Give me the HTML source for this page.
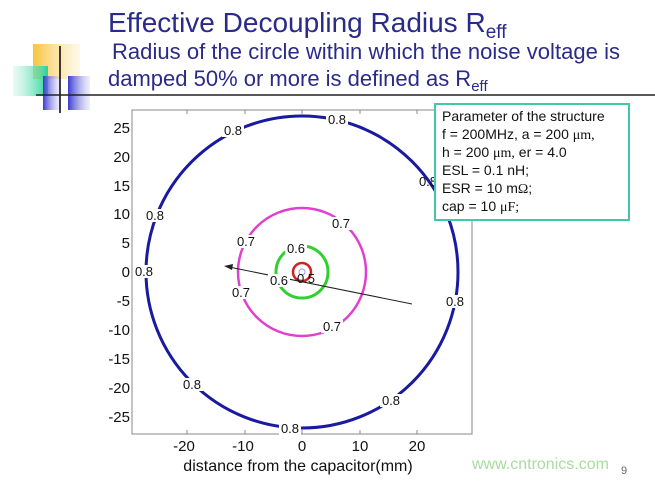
<!DOCTYPE html>
<html><head><meta charset="utf-8"><style>
body{margin:0;background:#fff;width:655px;height:479px;overflow:hidden;font-family:"Liberation Sans",sans-serif;}
</style></head><body>
<svg width="655" height="479" viewBox="0 0 655 479" xmlns="http://www.w3.org/2000/svg" font-family="Liberation Sans, sans-serif">
<defs>
<linearGradient id="gy" x1="0" x2="1"><stop offset="0" stop-color="#f7c33a"/><stop offset="1" stop-color="#fbe7b0" stop-opacity="0.3"/></linearGradient>
<linearGradient id="gg" x1="1" x2="0"><stop offset="0" stop-color="#27d49a"/><stop offset="1" stop-color="#b8f0dc" stop-opacity="0.3"/></linearGradient>
<linearGradient id="gb" x1="0" x2="1"><stop offset="0" stop-color="#3a3ad0"/><stop offset="1" stop-color="#c8c8f4" stop-opacity="0.3"/></linearGradient>
</defs>
<rect x="33" y="44" width="47" height="35" fill="url(#gy)"/>
<rect x="13" y="66" width="35" height="30" fill="url(#gg)"/>
<rect x="43" y="76" width="17" height="34" fill="url(#gb)"/>
<rect x="68" y="76" width="22" height="34" fill="url(#gb)"/>
<line x1="60" y1="46" x2="60" y2="113" stroke="#000" stroke-width="1.5"/>
<line x1="36" y1="95" x2="655" y2="95" stroke="#222" stroke-width="1.5"/>
<text x="108" y="32" font-size="28" fill="#2a2a8a">Effective Decoupling Radius R<tspan font-size="19" dy="6">eff</tspan></text>
<text x="112" y="59" font-size="22" fill="#2a2a8a" textLength="508">Radius of the circle within which the noise voltage is</text>
<text x="108" y="86" font-size="22" fill="#2a2a8a">damped 50% or more is defined as R<tspan font-size="15" dy="5">eff</tspan></text>

<rect x="132" y="110" width="340" height="324" fill="none" stroke="#888" stroke-width="1"/>
<g stroke="#888">
<line x1="187" y1="434" x2="187" y2="430"/><line x1="245" y1="434" x2="245" y2="430"/><line x1="302" y1="434" x2="302" y2="430"/><line x1="360" y1="434" x2="360" y2="430"/><line x1="417" y1="434" x2="417" y2="430"/>
<line x1="187" y1="110" x2="187" y2="114"/><line x1="245" y1="110" x2="245" y2="114"/><line x1="302" y1="110" x2="302" y2="114"/><line x1="360" y1="110" x2="360" y2="114"/><line x1="417" y1="110" x2="417" y2="114"/>
</g>
<g font-size="15" fill="#111" text-anchor="end">
<text x="130" y="133">25</text><text x="130" y="162">20</text><text x="130" y="191">15</text><text x="130" y="219">10</text><text x="130" y="248">5</text><text x="130" y="277">0</text><text x="130" y="306">-5</text><text x="130" y="335">-10</text><text x="130" y="364">-15</text><text x="130" y="393">-20</text><text x="130" y="422">-25</text>
</g>
<g font-size="15" fill="#111" text-anchor="middle">
<text x="184" y="451">-20</text><text x="243" y="451">-10</text><text x="302" y="451">0</text><text x="360" y="451">10</text><text x="417" y="451">20</text>
<text x="298" y="471" font-size="16">distance from the capacitor(mm)</text>
</g>
<circle cx="302" cy="272" r="156" fill="none" stroke="#1a1aa0" stroke-width="3"/>
<circle cx="302" cy="272" r="64" fill="none" stroke="#e040d0" stroke-width="2.5"/>
<circle cx="302" cy="272" r="26" fill="none" stroke="#30d030" stroke-width="3"/>
<circle cx="302" cy="272" r="9" fill="none" stroke="#d02020" stroke-width="2.5"/>
<circle cx="302" cy="272" r="3" fill="none" stroke="#9999dd" stroke-width="1"/>
<line x1="412" y1="304" x2="229" y2="267" stroke="#222" stroke-width="1"/>
<polygon points="224,266 233,264 232,270" fill="#222"/>
<g font-size="13" fill="#111" text-anchor="middle">
<g fill="#fff"><rect x="222" y="124" width="22" height="13"/><rect x="326" y="113" width="22" height="13"/><rect x="144" y="209" width="22" height="13"/><rect x="133" y="265" width="22" height="13"/><rect x="444" y="295" width="22" height="13"/><rect x="181" y="378" width="22" height="13"/><rect x="380" y="394" width="22" height="13"/><rect x="279" y="422" width="22" height="13"/>
<rect x="235" y="235" width="22" height="13"/><rect x="330" y="217" width="22" height="13"/><rect x="230" y="286" width="22" height="13"/><rect x="321" y="320" width="22" height="13"/><rect x="285" y="242" width="22" height="13"/><rect x="268" y="274" width="22" height="13"/></g>
<text x="233" y="135">0.8</text><text x="337" y="124">0.8</text><text x="155" y="220">0.8</text><text x="144" y="276">0.8</text><text x="455" y="306">0.8</text><text x="192" y="389">0.8</text><text x="391" y="405">0.8</text><text x="290" y="433">0.8</text>
<text x="246" y="246">0.7</text><text x="341" y="228">0.7</text><text x="241" y="297">0.7</text><text x="332" y="331">0.7</text>
<text x="296" y="253">0.6</text><text x="279" y="285">0.6</text><text x="306" y="283">0.5</text>
<text x="428" y="186">0.8</text>
</g>
<rect x="435" y="104" width="194" height="116" fill="#fff" stroke="#40c8a8" stroke-width="2"/>
<g font-size="14" fill="#111">
<text x="442" y="121">Parameter of the structure</text>
<text x="442" y="139">f  = 200MHz,  a = 200 <tspan font-family="Liberation Serif, serif">μm,</tspan></text>
<text x="442" y="157">h = 200 <tspan font-family="Liberation Serif, serif">μm,</tspan> er = 4.0</text>
<text x="442" y="175">ESL = 0.1 nH;</text>
<text x="442" y="193">ESR = 10 m<tspan font-family="Liberation Serif, serif">Ω</tspan>;</text>
<text x="442" y="211">cap = 10 <tspan font-family="Liberation Serif, serif">μF;</tspan></text>
</g>
<text x="472" y="469" font-size="16" fill="#a8dca0">www.cntronics.com</text>
<text x="621" y="474" font-size="11" fill="#666">9</text>
</svg>
</body></html>
